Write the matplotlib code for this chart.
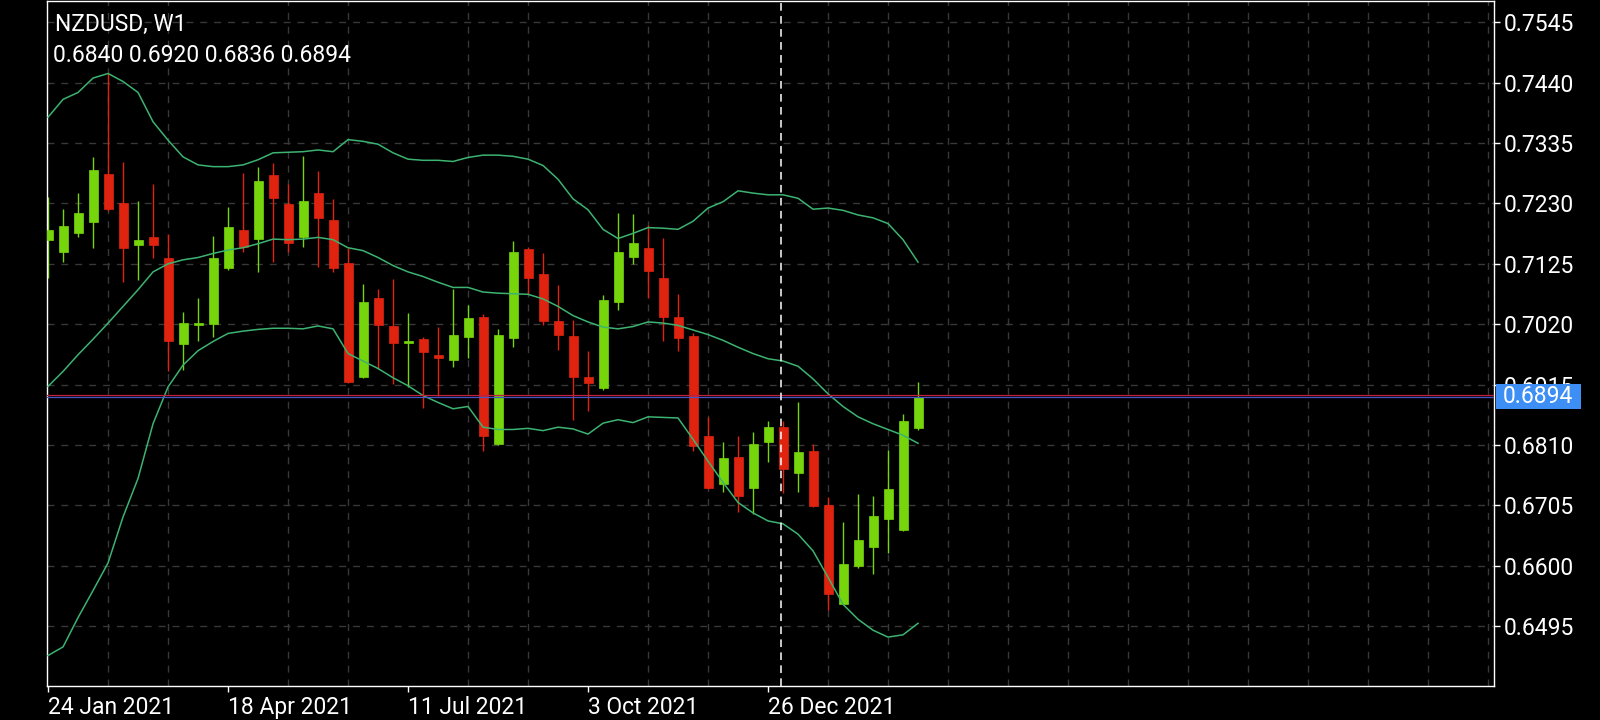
import matplotlib
matplotlib.use("Agg")
import matplotlib.pyplot as plt
import matplotlib.transforms as mtransforms
from matplotlib.patches import Rectangle
import numpy as np

plt.rcParams['font.family'] = ['Roboto', 'DejaVu Sans']

# ---------------- data ----------------
symbol_title = "NZDUSD, W1"
ohlc_text = "0.6840 0.6920 0.6836 0.6894"

opens = [0.7167, 0.7146, 0.7179, 0.7197, 0.7281, 0.7230, 0.7157, 0.7171, 0.7135, 0.6986,
         0.7019, 0.7020, 0.7117, 0.7184, 0.7169, 0.7280, 0.7229, 0.7172, 0.7248, 0.7201,
         0.7126, 0.6928, 0.7065, 0.7017, 0.6988, 0.6994, 0.6967, 0.6957, 0.6998, 0.7032,
         0.6811, 0.6996, 0.7150, 0.7108, 0.7025, 0.6999, 0.6929, 0.6909, 0.7059, 0.7137,
         0.7153, 0.7100, 0.7032, 0.6999, 0.6826, 0.6743, 0.6790, 0.6735, 0.6815, 0.6842,
         0.6761, 0.6799, 0.6706, 0.6534, 0.6599, 0.6632, 0.6681, 0.6662, 0.6840]
highs = [0.7242, 0.7220, 0.7249, 0.7310, 0.7456, 0.7302, 0.7234, 0.7264, 0.7177, 0.7041,
         0.7065, 0.7173, 0.7223, 0.7283, 0.7293, 0.7301, 0.7264, 0.7313, 0.7286, 0.7238,
         0.7152, 0.7090, 0.7081, 0.7098, 0.7040, 0.6998, 0.7015, 0.7082, 0.7054, 0.7038,
         0.7012, 0.7164, 0.7154, 0.7144, 0.7088, 0.7027, 0.6974, 0.7071, 0.7213, 0.7211,
         0.7192, 0.7170, 0.7073, 0.7005, 0.6859, 0.6816, 0.6826, 0.6833, 0.6851, 0.6851,
         0.6884, 0.6812, 0.6720, 0.6676, 0.6724, 0.6722, 0.6802, 0.6864, 0.6920]
lows = [0.7100, 0.7129, 0.7171, 0.7152, 0.7217, 0.7094, 0.7097, 0.7136, 0.6938, 0.6940,
        0.6991, 0.6998, 0.7115, 0.7146, 0.7110, 0.7129, 0.7146, 0.7154, 0.7120, 0.7111,
        0.6917, 0.6927, 0.6943, 0.6916, 0.6911, 0.6875, 0.6896, 0.6945, 0.6961, 0.6799,
        0.6810, 0.6980, 0.7073, 0.7019, 0.6976, 0.6854, 0.6869, 0.6906, 0.7044, 0.7125,
        0.7066, 0.6991, 0.6973, 0.6799, 0.6733, 0.6729, 0.6694, 0.6690, 0.6781, 0.6726,
        0.6729, 0.6702, 0.6523, 0.6533, 0.6596, 0.6586, 0.6623, 0.6661, 0.6836]
closes = [0.7184, 0.7191, 0.7213, 0.7288, 0.7220, 0.7153, 0.7166, 0.7157, 0.6991, 0.7022,
          0.7022, 0.7135, 0.7189, 0.7154, 0.7269, 0.7240, 0.7161, 0.7234, 0.7204, 0.7117,
          0.6920, 0.7058, 0.7019, 0.6988, 0.6990, 0.6972, 0.6962, 0.7001, 0.7030, 0.6825,
          0.7002, 0.7145, 0.7100, 0.7025, 0.7001, 0.6928, 0.6917, 0.7062, 0.7145, 0.7161,
          0.7113, 0.7032, 0.6996, 0.6808, 0.6735, 0.6788, 0.6722, 0.6811, 0.6842, 0.6769,
          0.6797, 0.6704, 0.6551, 0.6603, 0.6644, 0.6686, 0.6734, 0.6851, 0.6894]

bb_upper = [0.7380, 0.7411, 0.7423, 0.7448, 0.7456, 0.7442, 0.7423, 0.7372, 0.7340, 0.7311,
            0.7297, 0.7294, 0.7294, 0.7297, 0.7306, 0.7318, 0.7319, 0.7320, 0.7323, 0.7320,
            0.7341, 0.7338, 0.7333, 0.7318, 0.7307, 0.7305, 0.7305, 0.7303, 0.7310, 0.7314,
            0.7314, 0.7312, 0.7307, 0.7296, 0.7272, 0.7238, 0.7219, 0.7185, 0.7169, 0.7178,
            0.7188, 0.7187, 0.7185, 0.7199, 0.7222, 0.7233, 0.7252, 0.7248, 0.7245, 0.7245,
            0.7239, 0.7220, 0.7222, 0.7218, 0.7210, 0.7205, 0.7195, 0.7167, 0.7128]
bb_middle = [0.6912, 0.6938, 0.6967, 0.6994, 0.7022, 0.7051, 0.7080, 0.7111, 0.7125, 0.7132,
             0.7136, 0.7143, 0.7149, 0.7153, 0.7160, 0.7168, 0.7167, 0.7168, 0.7171, 0.7167,
             0.7153, 0.7148, 0.7136, 0.7122, 0.7111, 0.7103, 0.7093, 0.7084, 0.7084, 0.7076,
             0.7074, 0.7073, 0.7072, 0.7064, 0.7051, 0.7035, 0.7024, 0.7015, 0.7012, 0.7016,
             0.7024, 0.7022, 0.7018, 0.7010, 0.7002, 0.6992, 0.6980, 0.6969, 0.6960, 0.6956,
             0.6947, 0.6925, 0.6899, 0.6877, 0.6859, 0.6847, 0.6837, 0.6827, 0.6813]
bb_lower = [0.6444, 0.6459, 0.6510, 0.6557, 0.6605, 0.6685, 0.6752, 0.6847, 0.6911, 0.6949,
            0.6974, 0.6990, 0.7004, 0.7008, 0.7011, 0.7013, 0.7013, 0.7012, 0.7017, 0.7012,
            0.6969, 0.6956, 0.6943, 0.6927, 0.6913, 0.6896, 0.6884, 0.6873, 0.6877, 0.6841,
            0.6837, 0.6837, 0.6839, 0.6835, 0.6841, 0.6838, 0.6829, 0.6848, 0.6854, 0.6849,
            0.6859, 0.6858, 0.6857, 0.6820, 0.6782, 0.6745, 0.6710, 0.6692, 0.6678, 0.6673,
            0.6655, 0.6626, 0.6580, 0.6533, 0.6507, 0.6488, 0.6476, 0.6480, 0.6500]

date_labels = ["24 Jan 2021", "18 Apr 2021", "11 Jul 2021", "3 Oct 2021", "26 Dec 2021"]
date_positions = [0, 12, 24, 36, 48]
price_ticks = [0.6495, 0.6600, 0.6705, 0.6810, 0.6915, 0.7020, 0.7125, 0.7230, 0.7335, 0.7440, 0.7545]
crosshair_x = 48.85
last_price = 0.6894
last_price_label = "0.6894"

# ---------------- style ----------------
BG = "black"
UP = "#76d60b"
DOWN = "#e0230f"
BAND = "#3cb371"
GRID = "#383838"
FS = 16.5

W, H = 1600, 720
fig = plt.figure(figsize=(W / 100, H / 100), dpi=100, facecolor=BG)
ax_l, ax_r, ax_t, ax_b = 47, 1494, 1, 686
ax = fig.add_axes([ax_l / W, 1 - ax_b / H, (ax_r - ax_l) / W, (ax_b - ax_t) / H])
ax.set_facecolor(BG)

n = len(opens)
x = np.arange(n)
o = np.array(opens); h = np.array(highs); l = np.array(lows); c = np.array(closes)
up = c >= o
colors = np.where(up, UP, DOWN)

ax.vlines(x, l, h, colors=colors, linewidth=1.0, zorder=2)
ax.bar(x, np.abs(c - o), bottom=np.minimum(o, c), width=0.6, color=colors,
       edgecolor=colors, linewidth=0.5, zorder=3)

for band in (bb_upper, bb_middle, bb_lower):
    ax.plot(x, band, color=BAND, linewidth=1.1, zorder=4)

ymin, ymax = 0.6391, 0.7582
ax.set_ylim(ymin, ymax)
ax.set_xlim(-0.07, 96.4)

# current price lines (ask / bid)
ax.axhline(last_price + 0.0003, color="#c0203a", linewidth=0.9, zorder=5)
ax.axhline(last_price, color="#4656c8", linewidth=0.9, zorder=5)

# crosshair
ax.axvline(crosshair_x, color="white", linewidth=1.1, linestyle=(0, (5, 3.5)), zorder=6)

# axes / ticks
ax.yaxis.tick_right()
ax.set_yticks(price_ticks)
ax.set_yticklabels([f"{p:.4f}" for p in price_ticks])
ax.set_xticks(date_positions)
ax.set_xticklabels(date_labels)
for lbl in ax.get_xticklabels():
    lbl.set_ha("left")
ax.set_xticks(np.arange(0, 97, 4), minor=True)
ax.tick_params(axis="both", which="major", colors="white", labelcolor="white",
               labelsize=FS, length=4, width=1)
ax.tick_params(axis="y", pad=3)
ax.tick_params(axis="x", pad=3)
ax.tick_params(which="minor", length=0)
ax.grid(True, axis="y", which="major", color=GRID, linestyle=(0, (5, 5)), linewidth=1.0)
ax.grid(True, axis="x", which="minor", color=GRID, linestyle=(0, (5, 5)), linewidth=1.0)
ax.grid(False, axis="x", which="major")
ax.set_axisbelow(True)
for s in ax.spines.values():
    s.set_color("white")
    s.set_linewidth(1.0)

# price label box on the right axis
trans = mtransforms.blended_transform_factory(ax.transAxes, ax.transData)
px_per_unit = (ax_b - ax_t) / (ymax - ymin)
box_h = 25 / px_per_unit
box_w = 85 / (ax_r - ax_l)
ax.add_patch(Rectangle((1.0014, last_price - box_h / 2), box_w, box_h, transform=trans,
                       facecolor="#3d8ef5", edgecolor="none", clip_on=False, zorder=10))
ax.text(1.0014 + 7 / (ax_r - ax_l), last_price, last_price_label, transform=trans,
        color="white", fontsize=FS, va="center", ha="left", zorder=11, clip_on=False)

# header texts
fig.text(55 / W, 1 - 24 / H, symbol_title, color="white", fontsize=FS, va="center", ha="left")
fig.text(53 / W, 1 - 56 / H, ohlc_text, color="white", fontsize=FS, va="center", ha="left")

fig.savefig("out.png", dpi=100, facecolor=BG)
